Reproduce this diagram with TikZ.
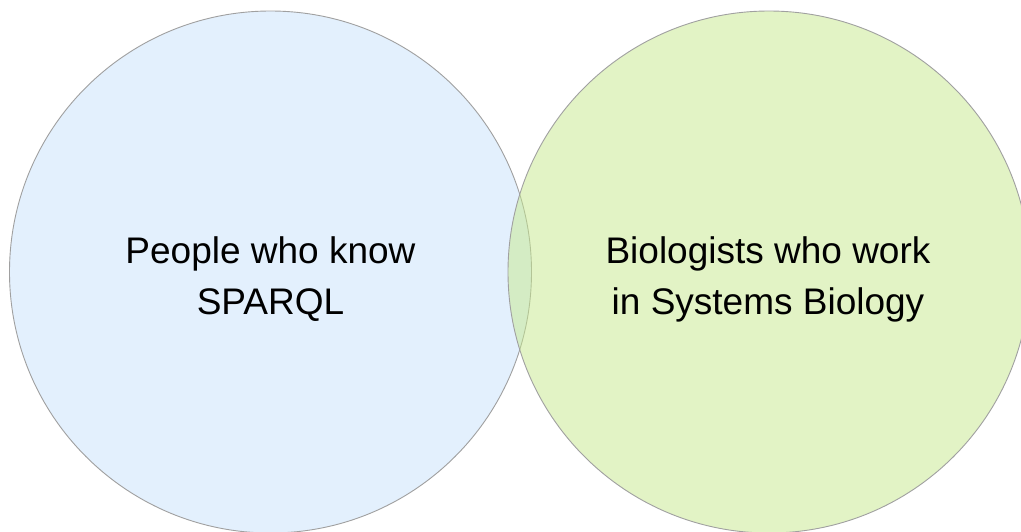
\documentclass[tikz,border=0pt]{standalone}
\usepackage{fontspec}
\setmainfont{Liberation Sans}
\definecolor{setblue}{RGB}{227,240,253}
\definecolor{setgreen}{RGB}{199,233,141}
\definecolor{rim}{RGB}{160,160,160}
\begin{document}
\begin{tikzpicture}[x=1pt,y=-1pt,
  setcircle/.style={draw=rim,line width=0.9pt},
  setlabel/.style={anchor=base,inner sep=0pt,font=\fontsize{37}{51}\selectfont}]
\useasboundingbox (0,0) rectangle (1021,531);
% the two sets
\fill[white] (0,0) rectangle (1021,531);
\filldraw[setcircle,fill=setblue] (270.5,272) circle[radius=261];
\filldraw[setcircle,fill=setgreen,fill opacity=0.5] (769,272) circle[radius=261];
% left set label
\node[setlabel] (la) at (270.5,263) {People who know};
\node[setlabel] (lb) at (270.5,314) {SPARQL};
% right set label
\node[setlabel] (ra) at (768,263) {Biologists who work};
\node[setlabel] (rb) at (768,314) {in Systems Biology};
\end{tikzpicture}
\end{document}
